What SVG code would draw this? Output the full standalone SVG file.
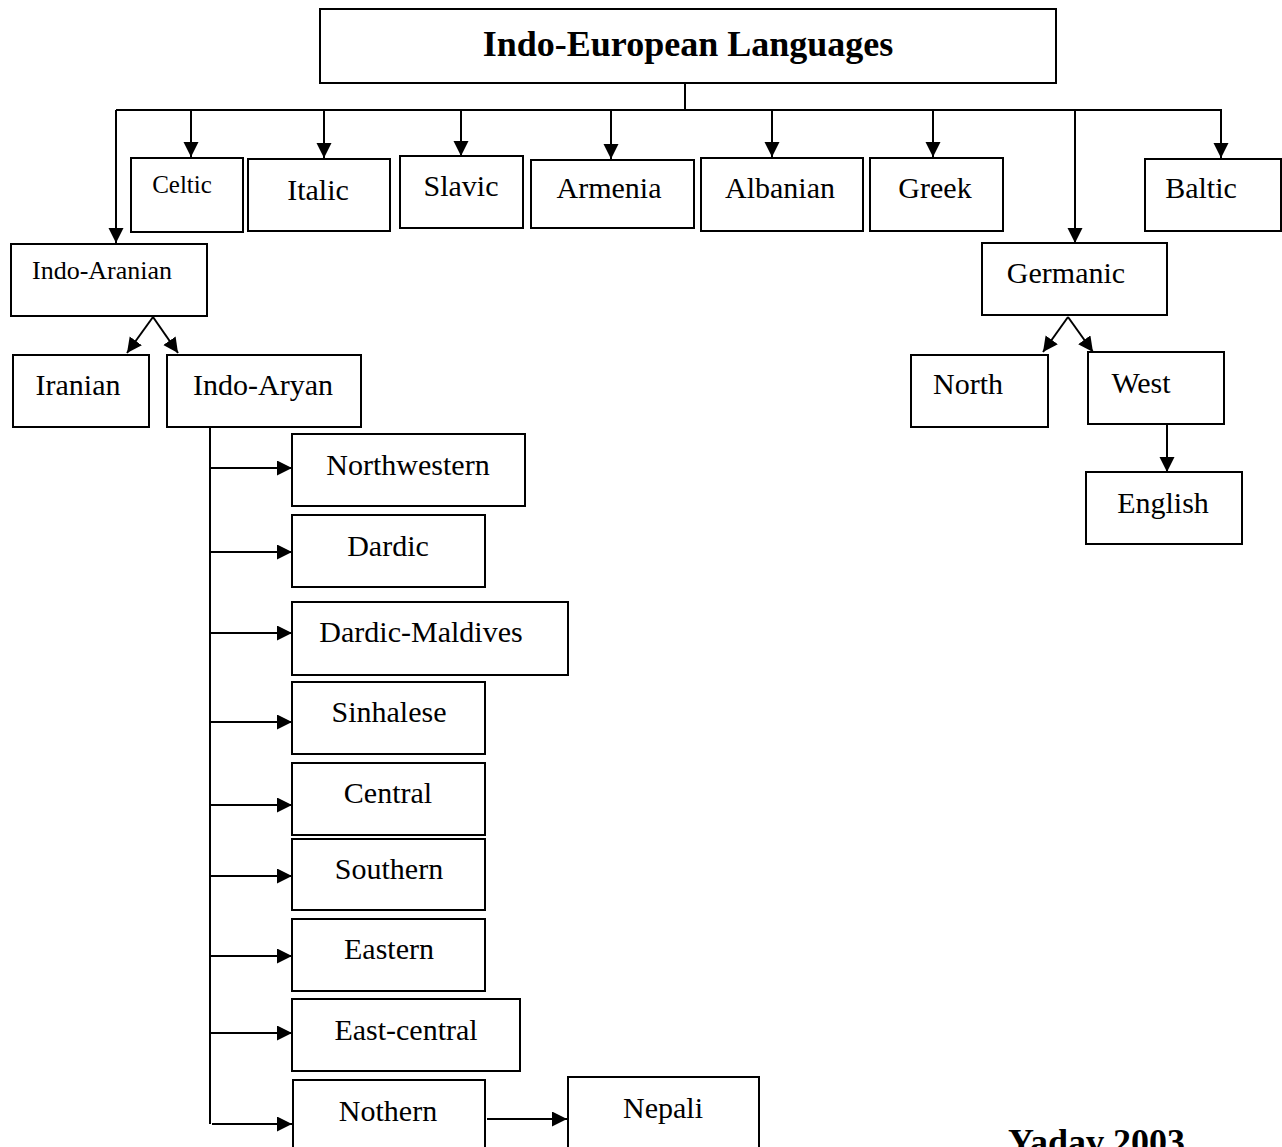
<svg xmlns="http://www.w3.org/2000/svg" width="1282" height="1147" viewBox="0 0 1282 1147">
<style>
.box{fill:#fff;stroke:#000;stroke-width:2}
.t{font-family:"Liberation Serif","Times New Roman",serif;font-size:30px;fill:#000;text-anchor:middle}
.s{font-size:25px}
.b{font-weight:bold}
.c line,.c path{stroke:#000;stroke-width:2;fill:none}
</style>
<defs>
<marker id="ah" markerUnits="userSpaceOnUse" markerWidth="16" markerHeight="16" refX="15" refY="7.5" orient="auto">
<path d="M0,0 L15,7.5 L0,15 z" fill="#000"/>
</marker>
</defs>
<rect width="1282" height="1147" fill="#fff"/>
<g class="c">
<line x1="685" y1="83" x2="685" y2="110"/>
<line x1="116" y1="110" x2="1222" y2="110"/>
<line x1="116" y1="110" x2="116" y2="243" marker-end="url(#ah)"/>
<line x1="191" y1="110" x2="191" y2="157" marker-end="url(#ah)"/>
<line x1="324" y1="110" x2="324" y2="158" marker-end="url(#ah)"/>
<line x1="461" y1="110" x2="461" y2="156" marker-end="url(#ah)"/>
<line x1="611" y1="110" x2="611" y2="159" marker-end="url(#ah)"/>
<line x1="772" y1="110" x2="772" y2="157" marker-end="url(#ah)"/>
<line x1="933" y1="110" x2="933" y2="157" marker-end="url(#ah)"/>
<line x1="1075" y1="110" x2="1075" y2="243" marker-end="url(#ah)"/>
<line x1="1221" y1="110" x2="1221" y2="158" marker-end="url(#ah)"/>
<line x1="153" y1="317" x2="127" y2="353" marker-end="url(#ah)"/>
<line x1="153" y1="317" x2="178" y2="353" marker-end="url(#ah)"/>
<line x1="1068" y1="317" x2="1043" y2="352" marker-end="url(#ah)"/>
<line x1="1068" y1="317" x2="1093" y2="352" marker-end="url(#ah)"/>
<line x1="1167" y1="424" x2="1167" y2="472" marker-end="url(#ah)"/>
<line x1="210" y1="427" x2="210" y2="1124"/>
<line x1="211" y1="468" x2="292" y2="468" marker-end="url(#ah)"/>
<line x1="211" y1="552" x2="292" y2="552" marker-end="url(#ah)"/>
<line x1="211" y1="633" x2="292" y2="633" marker-end="url(#ah)"/>
<line x1="211" y1="722" x2="292" y2="722" marker-end="url(#ah)"/>
<line x1="211" y1="805" x2="292" y2="805" marker-end="url(#ah)"/>
<line x1="211" y1="876" x2="292" y2="876" marker-end="url(#ah)"/>
<line x1="211" y1="956" x2="292" y2="956" marker-end="url(#ah)"/>
<line x1="211" y1="1033" x2="292" y2="1033" marker-end="url(#ah)"/>
<line x1="212" y1="1124" x2="292" y2="1124" marker-end="url(#ah)"/>
<line x1="487" y1="1119" x2="567" y2="1119" marker-end="url(#ah)"/>
</g>
<g id="n-root"><rect class="box" x="320" y="9" width="736" height="74"/><text class="t b" x="688" y="56" style="font-size:36px">Indo-European Languages</text></g>
<g id="n-celtic"><rect class="box" x="131" y="158" width="112" height="74"/><text class="t s" x="182" y="193">Celtic</text></g>
<g id="n-italic"><rect class="box" x="248" y="159" width="142" height="72"/><text class="t" x="318" y="200">Italic</text></g>
<g id="n-slavic"><rect class="box" x="400" y="156" width="123" height="72"/><text class="t" x="461" y="196">Slavic</text></g>
<g id="n-armenia"><rect class="box" x="531" y="160" width="163" height="68"/><text class="t" x="609" y="198">Armenia</text></g>
<g id="n-albanian"><rect class="box" x="701" y="158" width="162" height="73"/><text class="t" x="780" y="198">Albanian</text></g>
<g id="n-greek"><rect class="box" x="870" y="158" width="133" height="73"/><text class="t" x="935" y="198">Greek</text></g>
<g id="n-baltic"><rect class="box" x="1145" y="159" width="136" height="72"/><text class="t" x="1201" y="198">Baltic</text></g>
<g id="n-indoaranian"><rect class="box" x="11" y="244" width="196" height="72"/><text class="t" x="32" y="279" style="font-size:26px;text-anchor:start">Indo-Aranian</text></g>
<g id="n-germanic"><rect class="box" x="982" y="243" width="185" height="72"/><text class="t" x="1066" y="283">Germanic</text></g>
<g id="n-iranian"><rect class="box" x="13" y="355" width="136" height="72"/><text class="t" x="78" y="395">Iranian</text></g>
<g id="n-indoaryan"><rect class="box" x="167" y="355" width="194" height="72"/><text class="t" x="263" y="395">Indo-Aryan</text></g>
<g id="n-north"><rect class="box" x="911" y="355" width="137" height="72"/><text class="t" x="968" y="394">North</text></g>
<g id="n-west"><rect class="box" x="1088" y="352" width="136" height="72"/><text class="t" x="1141" y="393">West</text></g>
<g id="n-english"><rect class="box" x="1086" y="472" width="156" height="72"/><text class="t" x="1163" y="513">English</text></g>
<g id="n-northwestern"><rect class="box" x="292" y="434" width="233" height="72"/><text class="t" x="408" y="475">Northwestern</text></g>
<g id="n-dardic"><rect class="box" x="292" y="515" width="193" height="72"/><text class="t" x="388" y="556">Dardic</text></g>
<g id="n-dardicmaldives"><rect class="box" x="292" y="602" width="276" height="73"/><text class="t" x="421" y="642">Dardic-Maldives</text></g>
<g id="n-sinhalese"><rect class="box" x="292" y="682" width="193" height="72"/><text class="t" x="389" y="722">Sinhalese</text></g>
<g id="n-central"><rect class="box" x="292" y="763" width="193" height="72"/><text class="t" x="388" y="803">Central</text></g>
<g id="n-southern"><rect class="box" x="292" y="839" width="193" height="71"/><text class="t" x="389" y="879">Southern</text></g>
<g id="n-eastern"><rect class="box" x="292" y="919" width="193" height="72"/><text class="t" x="389" y="959">Eastern</text></g>
<g id="n-eastcentral"><rect class="box" x="292" y="999" width="228" height="72"/><text class="t" x="406" y="1040">East-central</text></g>
<g id="n-nothern"><rect class="box" x="293" y="1080" width="192" height="80"/><text class="t" x="388" y="1121">Nothern</text></g>
<g id="n-nepali"><rect class="box" x="568" y="1077" width="191" height="80"/><text class="t" x="663" y="1118">Nepali</text></g>
<text class="t b" x="1008" y="1154" style="font-size:36px;text-anchor:start">Yadav 2003</text>
</svg>
